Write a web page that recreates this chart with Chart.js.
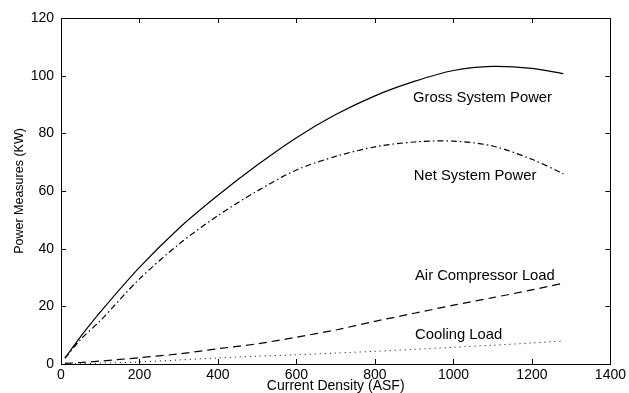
<!DOCTYPE html>
<html>
<head>
<meta charset="utf-8">
<script src="https://cdn.jsdelivr.net/npm/chart.js@4.4.1/dist/chart.umd.min.js"></script>
<style>
  body { margin: 0; background: #fff; }
  #wrap { width: 629px; height: 393px; }
</style>
</head>
<body>
<div id="wrap"><canvas id="myGraph"></canvas></div>
<script>
// values
var currentDensity = [10, 50, 100, 200, 300, 400, 500, 600, 700, 800, 900, 1000, 1100, 1200, 1280];
var grossPower     = [2, 9.5, 18, 33.5, 47, 58.5, 69, 78.5, 86.5, 93, 98, 101.8, 103.2, 102.5, 100.7];
var netPower       = [2, 8.5, 15, 29.5, 41.5, 51.5, 60, 67.3, 72, 75.3, 77, 77.3, 75.6, 71, 66];
var airCompressor  = [0.2, 0.5, 1, 2.2, 3.5, 5.3, 7, 9.3, 11.8, 14.8, 17.6, 20.4, 23, 25.7, 28];
var coolingLoad    = [0, 0.1, 0.3, 0.7, 1.4, 2.1, 2.7, 3.2, 3.8, 4.4, 5.1, 5.8, 6.5, 7.3, 8];

var xTicks = [0, 200, 400, 600, 800, 1000, 1200, 1400];
var yTicks = [0, 20, 40, 60, 80, 100, 120];

// curve labels: text, x, y (data units)
var curveLabels = [
  ['Gross System Power', 897, 92.2],
  ['Net System Power', 899, 65.2],
  ['Air Compressor Load', 902, 30.5],
  ['Cooling Load', 902, 10]
];

function pts(ys) {
  return currentDensity.map(function (x, i) { return {x: x, y: ys[i]}; });
}

var FONT = 'Liberation Sans, Arial, Helvetica, sans-serif';

// box + inward ticks on all four sides, and the text labels
var matlabBox = {
  id: 'matlabBox',
  afterDraw: function (chart) {
    var ctx = chart.ctx, a = chart.chartArea;
    var xs = chart.scales.x, ys = chart.scales.y;
    var tl = 5;
    ctx.save();
    ctx.strokeStyle = '#000';
    ctx.lineWidth = 1;
    ctx.strokeRect(Math.round(a.left) + 0.5, Math.round(a.top) + 0.5,
                   Math.round(a.right - a.left), Math.round(a.bottom - a.top));
    ctx.beginPath();
    xTicks.forEach(function (v) {
      var px = Math.round(xs.getPixelForValue(v)) + 0.5;
      ctx.moveTo(px, a.bottom); ctx.lineTo(px, a.bottom - tl);
      ctx.moveTo(px, a.top); ctx.lineTo(px, a.top + tl);
    });
    yTicks.forEach(function (v) {
      var py = Math.round(ys.getPixelForValue(v)) + 0.5;
      ctx.moveTo(a.left, py); ctx.lineTo(a.left + tl, py);
      ctx.moveTo(a.right, py); ctx.lineTo(a.right - tl, py);
    });
    ctx.stroke();

    ctx.fillStyle = '#000';
    ctx.font = '14.8px ' + FONT;
    ctx.textAlign = 'left';
    ctx.textBaseline = 'middle';
    curveLabels.forEach(function (l) {
      ctx.fillText(l[0], xs.getPixelForValue(l[1]), ys.getPixelForValue(l[2]));
    });
    ctx.restore();
  }
};

var ctx = document.getElementById('myGraph');
var myChart = new Chart(ctx, {
  type: 'line',
  data: {
    datasets: [
      { label: 'Gross System Power', data: pts(grossPower), borderColor: '#000', borderWidth: 1.2 },
      { label: 'Net System Power', data: pts(netPower), borderColor: '#000', borderWidth: 1.2, borderDash: [6, 3, 1.5, 3] },
      { label: 'Air Compressor Load', data: pts(airCompressor), borderColor: '#000', borderWidth: 1.2, borderDash: [8, 5] },
      { label: 'Cooling Load', data: pts(coolingLoad), borderColor: '#000', borderWidth: 1, borderDash: [1, 4] }
    ]
  },
  options: {
    responsive: true,
    maintainAspectRatio: false,
    animation: false,
    events: [],
    elements: {
      point: { radius: 0 },
      line: { tension: 0.3, fill: false }
    },
    layout: { padding: { left: 0, right: 17, top: 18, bottom: 0 } },
    plugins: { legend: { display: false }, tooltip: { enabled: false } },
    scales: {
      x: {
        type: 'linear', min: 0, max: 1400,
        grid: { display: false, drawTicks: false },
        border: { display: false },
        ticks: {
          stepSize: 200, color: '#000', padding: 3, maxRotation: 0,
          font: { family: FONT, size: 14 },
          callback: function (v) { return String(v); }
        },
        title: { display: true, text: 'Current Density (ASF)', color: '#000', padding: { top: 0, bottom: 0 }, font: { family: FONT, size: 14, lineHeight: 1 } },
        afterFit: function (s) { s.height = 29; }
      },
      y: {
        min: 0, max: 120,
        grid: { display: false, drawTicks: false },
        border: { display: false },
        ticks: {
          stepSize: 20, color: '#000', padding: 7,
          font: { family: FONT, size: 14 },
          callback: function (v) { return String(v); }
        },
        title: { display: true, text: 'Power Measures (KW)', color: '#000', padding: { top: 13.5, bottom: 0 }, font: { family: FONT, size: 12.5, lineHeight: 1 } },
        afterFit: function (s) { s.width = 61; }
      }
    }
  },
  plugins: [matlabBox]
});
</script>
</body>
</html>
